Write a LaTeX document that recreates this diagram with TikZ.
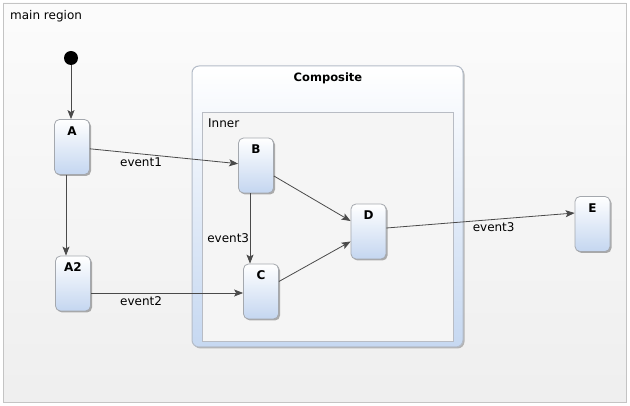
\documentclass[tikz,border=0pt]{standalone}
\usepackage{fontspec}
\setmainfont{DejaVu Sans}
\usetikzlibrary{arrows.meta,shadows,calc}
\definecolor{linec}{HTML}{4A4A4A}
\definecolor{stateborder}{HTML}{A4A8AE}
\definecolor{statebot}{HTML}{C4D6F0}
\definecolor{compborder}{HTML}{B4BCC8}
\definecolor{compbot}{HTML}{C6D8F1}
\definecolor{innerfill}{HTML}{F5F5F5}
\definecolor{innerborder}{HTML}{B8BCC4}
\definecolor{mainfill}{HTML}{F6F6F6}
\definecolor{mainborder}{HTML}{C4C4C4}
\begin{document}
\begin{tikzpicture}[x=1pt,y=-1pt,
  txt/.style={font=\fontsize{12}{14}\selectfont, inner sep=0pt},
  boldtxt/.style={font=\fontsize{12}{14}\selectfont\bfseries, inner sep=0pt},
  statebox/.style={draw=stateborder, line width=0.8pt, rounded corners=5pt,
    top color=white, bottom color=statebot, minimum width=35pt, minimum height=55pt,
    inner sep=0pt, drop shadow={shadow xshift=1.5pt, shadow yshift=-1.5pt, opacity=0.3, fill=black}},
  statename/.style={boldtxt, anchor=base, yshift=-16pt},
  compbox/.style={draw=compborder, line width=1pt, rounded corners=7pt,
    top color=white, bottom color=compbot, inner sep=0pt,
    drop shadow={shadow xshift=1.5pt, shadow yshift=-1.5pt, opacity=0.25, fill=black}},
  innerbox/.style={draw=innerborder, line width=0.8pt, fill=innerfill, inner sep=0pt},
  regionbox/.style={draw=mainborder, line width=0.8pt, top color=white!60!mainfill, bottom color=mainfill!97!black, inner sep=0pt},
  trans/.style={draw=linec, line width=0.8pt, -{Stealth[length=9pt,width=7pt,inset=2pt]}},
  evlbl/.style={txt, anchor=base, yshift=-13pt}
]
\useasboundingbox (0,0) rectangle (630,406);
% main region
\node[regionbox, minimum width=623pt, minimum height=399pt] (main) at (314.5,202.5) {};
\node[txt, anchor=base west] (mainlbl) at (10,20) {main region};
% composite
\node[compbox, minimum width=271pt, minimum height=281pt] (comp) at (327.5,206.5) {};
\node[font=\fontsize{11.5}{14}\selectfont\bfseries, inner sep=0pt, anchor=base] (complbl) at (328,82) {Composite};
\node[innerbox, minimum width=251pt, minimum height=229pt] (inner) at (327.5,226.5) {};
\node[txt, anchor=base west] (innerlbl) at (208,128) {Inner};
% initial
\node[circle, fill=black, minimum size=14pt, inner sep=0pt] (init) at (71,58) {};
% states
\node[statebox, label={[statename]north:A}] (A) at (72,147) {};
\node[statebox, label={[statename]north:A2}] (A2) at (73,283.5) {};
\node[statebox, label={[statename]north:B}] (B) at (256,165.5) {};
\node[statebox, label={[statename]north:C}] (C) at (261,291.5) {};
\node[statebox, label={[statename]north:D}] (D) at (368.5,231.5) {};
\node[statebox, label={[statename]north:E}] (E) at (592.5,224) {};
% transitions
\draw[trans] (init) -- (init |- A.north);
\draw[trans] ([xshift=-6pt]A.south) -- ([xshift=-6pt]A.south |- A2.north);
\draw[trans] (A) -- node[evlbl, pos=0.345] {event1} (B);
\draw[trans] ([yshift=-9.5pt]A2.east) -- node[evlbl, pos=0.33] {event2} ([yshift=-9.5pt]A2.east -| C.west);
\draw[trans] ([xshift=-6pt]B.south) -- node[txt, anchor=base east, pos=0.7, xshift=-0.5pt] {event3} ([xshift=-6pt]B.south |- C.north);
\draw[trans] (B) -- (D);
\draw[trans] (C) -- (D);
\draw[trans] ([yshift=3.5pt]D.east) -- node[evlbl, pos=0.57, yshift=1pt] {event3} ([yshift=11pt]E.west);
\end{tikzpicture}
\end{document}
